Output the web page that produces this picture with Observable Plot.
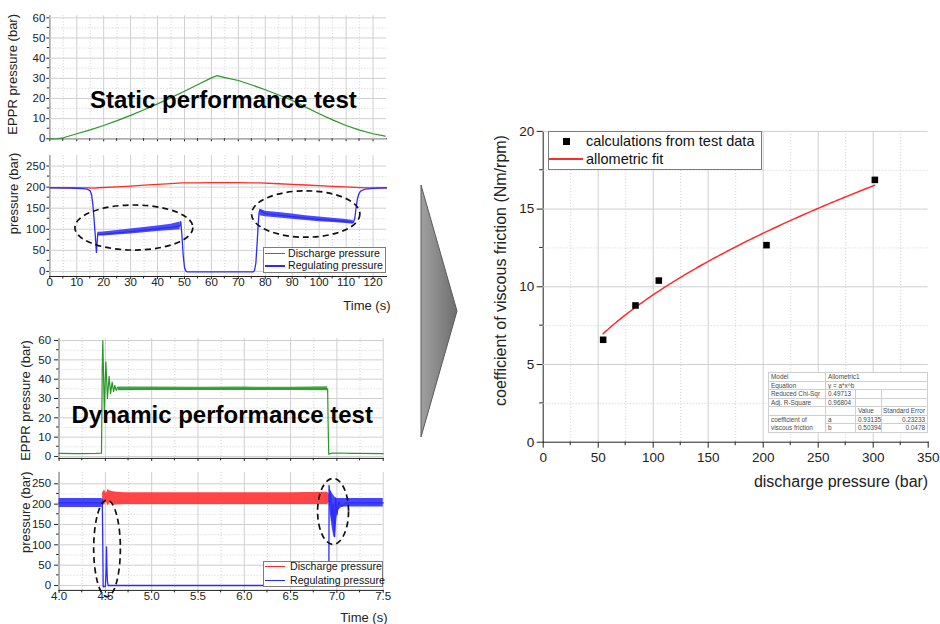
<!DOCTYPE html>
<html>
<head>
<meta charset="utf-8">
<script src="https://cdn.jsdelivr.net/npm/d3@7"></script>
<script src="https://cdn.jsdelivr.net/npm/@observablehq/plot@0.6"></script>
<style>
  html, body { margin: 0; padding: 0; background: #fff; }
  #page { position: relative; width: 940px; height: 624px; overflow: hidden;
          font-family: "Liberation Sans", Arial, sans-serif; color: #111; background: #fff; }
  .panel { position: absolute; }
  .banner { position: absolute; font-weight: bold; font-size: 24px; line-height: 24px;
            white-space: nowrap; color: #000; }
  .legend { position: absolute; background: #fff; border: 1px solid #7d7d7d; box-sizing: border-box; color: #111; }
  .stats { position: absolute; left: 768px; top: 372px; width: 159px; border-collapse: collapse;
           table-layout: fixed; font-size: 6.4px; color: #4a4a4a; background: #fff;
           border: 1px solid #8a8a8a; }
  .stats td { border: 1px solid #cfcfcf; height: 7.5px; line-height: 7.5px; padding: 0 0 0 2px;
              white-space: nowrap; overflow: hidden; }
  .stats td.r { text-align: right; padding: 0 2px 0 0; }
  .stats td.two { line-height: 8px; vertical-align: middle; }
</style>
</head>
<body>
<div id="page"></div>
<script>
// ---------------- data ----------------
// Static performance test: EPPR command pressure (bar) vs time (s)
const staticT    = [0, 3, 5, 10, 15, 20, 25, 30, 35, 40, 45, 50, 55, 60, 62, 65, 70, 75, 80, 85, 90, 95, 100, 105, 110, 115, 120, 124.5];
const staticEppr = [0, 0.05, 0.5, 2.5, 4.4, 6.6, 9.0, 11.6, 14.4, 17.3, 20.4, 23.6, 26.9, 30.2, 31.3, 30.3, 28.9, 26.7, 24.3, 21.7, 19.0, 15.7, 12.4, 9.4, 6.6, 4.3, 2.5, 1.3];

// Static test: discharge pressure (bar)
const dischargeT = [0, 8, 14, 16.5, 18, 25, 30, 35, 40, 45, 49, 55, 60, 65, 70, 75, 78, 85, 90, 95, 100, 105, 110, 115, 118, 121, 125];
const discharge  = [199, 198.5, 198, 197.5, 198.5, 200.5, 202.5, 204.5, 206.5, 208.5, 210, 210.3, 210.5, 210.5, 210.5, 210.3, 210, 208, 206.5, 205, 203.5, 202, 200.5, 199, 198, 198, 198.5];

// Static test: regulating pressure (bar), mean trace
const regT = [0, 8, 12, 14, 15, 15.5, 16, 16.5, 17, 17.3, 17.8, 20, 25, 30, 35, 40, 45, 48.3, 48.6, 49, 49.5, 50, 50.5, 51, 60, 70, 75.5, 76, 76.5, 77, 77.4, 77.7, 78, 80, 85, 90, 95, 100, 105, 110, 112.7, 113.2, 113.7, 114.2, 114.8, 115.5, 117, 120, 125];
const reg  = [198, 197.5, 196.5, 195, 191, 182, 158, 118, 75, 45, 88, 88.5, 91.5, 94.5, 98, 101.5, 104.5, 108, 118, 90, 40, 10, 1, -1, -1, -1, -1, 2, 20, 70, 115, 140, 146, 137, 133.5, 130, 126.5, 123.5, 121, 118.5, 116.5, 125, 150, 172, 185, 191, 195, 197, 198];
// Static test: regulating pressure fluctuation envelope (null splits the two bands)
const regBandT  = [17.8, 20, 25, 30, 35, 40, 45, 48.4, null, 78, 80, 85, 90, 95, 100, 105, 110, 112.7];
const regBandLo = [84, 84, 86.5, 89, 92, 95, 97, 99, null, 132, 130, 127, 124, 121, 118, 116, 114, 112];
const regBandHi = [93, 93.5, 97, 100.5, 104, 108, 112, 117, null, 148, 143, 140, 136, 132, 129, 126, 123, 121];

// Dynamic performance test: EPPR step (bar) vs time (s)
const dynT    = [4.0, 4.2, 4.4, 4.458, 4.466, 4.472, 4.488, 4.505, 4.522, 4.54, 4.556, 4.573, 4.588, 4.602, 4.616, 4.632, 4.65, 5.0, 5.5, 6.0, 6.5, 6.9, 6.906, 6.912, 6.95, 7.2, 7.5];
const dynEppr = [1.6, 1.5, 1.6, 1.7, 45, 60, 24, 49, 30, 41.5, 32.5, 38.5, 33.5, 36.8, 34.2, 35.8, 34.8, 35, 35, 35, 35, 35, 15, 1.2, 1.8, 1.6, 1.5];
const dynBandT  = [4.64, 5.0, 5.5, 6.0, 6.5, 6.9];
const dynBandLo = [34.0, 34.1, 34.2, 34.1, 34.2, 34.0];
const dynBandHi = [36.0, 35.9, 35.8, 35.9, 35.8, 36.1];

// Dynamic test: discharge pressure ripple envelope (bar)
const dynDisT  = [4.47, 4.49, 4.51, 4.53, 4.55, 4.6, 4.7, 5.0, 5.5, 6.0, 6.5, 6.9, 6.925];
const dynDisLo = [200, 197, 205, 196, 203, 198, 199, 199, 199, 199, 199, 199, 205];
const dynDisHi = [228, 235, 226, 236, 232, 230, 228, 228, 228, 228, 228, 229, 222];

// Dynamic test: regulating pressure trace and ripple envelope (bar)
const dynRegT = [4.0, 4.46, 4.466, 4.471, 4.476, 4.5, 4.508, 4.512, 4.516, 4.522, 4.53, 4.6, 5.0, 6.0, 6.9, 6.913, 6.916, 6.92, 6.93, 6.945, 6.96, 6.975, 6.985, 7.0, 7.02, 7.05, 7.1, 7.5];
const dynReg  = [203, 203, 212, 120, -3, -2, 40, 95, 45, 10, 0, 0, 0, 0, 0, 0, 246, 205, 230, 160, 200, 120, 215, 175, 205, 195, 203, 203];
const dynRegBandT  = [4.0, 4.465, null, 6.918, 6.93, 6.95, 6.97, 6.985, 7.0, 7.02, 7.05, 7.08, 7.5];
const dynRegBandLo = [192, 192, null, 200, 175, 140, 118, 125, 165, 185, 192, 193, 193];
const dynRegBandHi = [214, 214, null, 246, 236, 226, 220, 216, 214, 214, 214, 214, 214];

// Viscous friction coefficient from test data
const pressure = [54.5, 83.9, 105.1, 203, 301.5];
const coef     = [6.59, 8.8, 10.4, 12.68, 16.88];

// Allometric fit y = a*x^b
const fitModel = "Allometric1";
const fitEquation = "y = a*x^b";
const fitChiSqr = 0.49713;
const fitAdjR2 = 0.96804;
const fitA = 0.93135, fitAErr = 0.23233;
const fitB = 0.50394, fitBErr = 0.0478;

// ticks and labels
const staticTimeTicks = [0, 10, 20, 30, 40, 50, 60, 70, 80, 90, 100, 110, 120];
const staticTimeMinor = [5, 15, 25, 35, 45, 55, 65, 75, 85, 95, 105, 115];
const dynTimeTicks = [4.0, 4.5, 5.0, 5.5, 6.0, 6.5, 7.0, 7.5];
const dynTimeMinor = [4.25, 4.75, 5.25, 5.75, 6.25, 6.75, 7.25];
const epprTicks = [0, 10, 20, 30, 40, 50, 60];
const epprMinor = [5, 15, 25, 35, 45, 55];
const pressTicks = [0, 50, 100, 150, 200, 250];
const pressMinor = [25, 75, 125, 175, 225];
const dischargeAxisTicks = [0, 50, 100, 150, 200, 250, 300, 350];
const dischargeAxisMinor = [25, 75, 125, 175, 225, 275, 325];
const coefTicks = [0, 5, 10, 15, 20];
const coefMinor = [2.5, 7.5, 12.5, 17.5];

const seriesNames = ["Discharge pressure", "Regulating pressure"];
const fitLegend = ["calculations from test data", "allometric fit"];

// annotation ellipses in data units: centre (t, p), half-axes (dt, dp)
const staticHighlights = [{t: 31.4, p: 103, dt: 21.9, dp: 53.4}, {t: 95.2, p: 135, dt: 20.1, dp: 55}];
const dynamicHighlights = [{t: 4.523, p: 90, dt: 0.144, dp: 119}, {t: 6.964, p: 181, dt: 0.167, dp: 81}];

// ---------------- drawing ----------------
const GREEN = "#2a962a", RED = "#ff2b2b", BLUE = "#2b2bff";
const GRID = "#cfcfcf", FONT = "Liberation Sans, Arial, sans-serif";
const page = document.getElementById("page");

function place(el, left, top) {
  el.classList.add("panel");
  el.style.left = left + "px";
  el.style.top = top + "px";
  page.append(el);
  return el;
}

function scaleFn(svg, name) {
  const s = svg.scale(name);
  return s.apply ? (v) => s.apply(v) : d3.scaleLinear(s.domain, s.range);
}
function frameOf(svg) {
  const xs = svg.scale("x"), ys = svg.scale("y");
  return {x: scaleFn(svg, "x"), y: scaleFn(svg, "y"),
          left: Math.min(...xs.range), right: Math.max(...xs.range),
          top: Math.min(...ys.range), bottom: Math.max(...ys.range)};
}
function addMinorTicks(svg, xMinor, yMinor, len) {
  const f = frameOf(svg);
  const g = d3.select(svg).append("g").attr("stroke", "#222").attr("stroke-width", 1);
  for (const v of xMinor) {
    const px = f.x(v);
    g.append("line").attr("x1", px).attr("x2", px).attr("y1", f.bottom).attr("y2", f.bottom + len);
  }
  for (const v of yMinor) {
    const py = f.y(v);
    g.append("line").attr("x1", f.left).attr("x2", f.left - len).attr("y1", py).attr("y2", py);
  }
}
function addEllipses(svg, list) {
  const f = frameOf(svg);
  const g = d3.select(svg).append("g").attr("fill", "none").attr("stroke", "#111")
    .attr("stroke-width", 1.7).attr("stroke-dasharray", "6,4");
  for (const e of list) {
    const cx = f.x(e.t), cy = f.y(e.p);
    g.append("ellipse").attr("cx", cx).attr("cy", cy)
      .attr("rx", Math.abs(f.x(e.t + e.dt) - cx)).attr("ry", Math.abs(f.y(e.p + e.dp) - cy));
  }
}

// rotated axis title centred on the left edge of the frame
const yTitle = (text, dx, dy, size) =>
  Plot.text([text], {text: (d) => d, frameAnchor: "left", textAnchor: "middle", lineAnchor: "middle",
                     rotate: -90, dx, dy, fontSize: size, fill: "#222"});
const xTitle = (text, dx, dy, size) =>
  Plot.text([text], {text: (d) => d, frameAnchor: "bottom-right", textAnchor: "end", lineAnchor: "middle",
                     dx, dy, fontSize: size, fill: "#222"});

function timePanel({width, height, margin, xDomain, yDomain, xTicks, xMinor, yTicks, yMinor,
                    showX, xFormat, yTickSize, yTickPadding, marks}) {
  const svg = Plot.plot({
    width, height,
    marginLeft: margin[3], marginRight: margin[1], marginTop: margin[0], marginBottom: margin[2],
    style: {fontFamily: FONT, fontSize: "11.5px", background: "transparent", overflow: "visible", color: "#222"},
    x: {domain: xDomain, ticks: xTicks, tickSize: 3, tickPadding: -1.5, line: true, label: null,
        tickFormat: showX ? xFormat : () => ""},
    y: {domain: yDomain, ticks: yTicks, tickSize: yTickSize, tickPadding: yTickPadding, line: true, label: null},
    marks: [
      Plot.ruleY(yMinor, {stroke: GRID, strokeDasharray: "1,2"}),
      Plot.ruleX(xMinor, {stroke: GRID, strokeDasharray: "1,2"}),
      Plot.ruleY(yTicks, {stroke: GRID}),
      Plot.ruleX(xTicks, {stroke: GRID}),
      ...marks
    ]
  });
  addMinorTicks(svg, xMinor, yMinor, 2.5);
  return svg;
}

// Panel 1: static test EPPR pressure
place(timePanel({
  width: 400, height: 150, margin: [15.3, 14, 11.7, 49.3],
  xDomain: [0, 125], yDomain: [0, 61], xTicks: staticTimeTicks, xMinor: staticTimeMinor,
  yTicks: epprTicks, yMinor: epprMinor, showX: false, yTickSize: 3, yTickPadding: 1.5,
  marks: [
    Plot.line(staticT, {x: staticT, y: staticEppr, stroke: GREEN, strokeWidth: 1.2}),
    yTitle("EPPR pressure (bar)", -36.8, -3, 13)
  ]
}), 0, 0);

// Panel 2: static test discharge and regulating pressure
const p2 = place(timePanel({
  width: 400, height: 170, margin: [5, 14, 44, 49.3],
  xDomain: [0, 125], yDomain: [-12, 275], xTicks: staticTimeTicks, xMinor: staticTimeMinor,
  yTicks: pressTicks, yMinor: pressMinor, showX: true, xFormat: (d) => String(d), yTickSize: 3, yTickPadding: 1.5,
  marks: [
    Plot.line(dischargeT, {x: dischargeT, y: discharge, stroke: RED, strokeWidth: 1.3}),
    Plot.area(regBandT, {x1: regBandT, y1: regBandLo, y2: regBandHi, fill: BLUE, fillOpacity: 0.85}),
    Plot.line(regT, {x: regT, y: reg, stroke: BLUE, strokeWidth: 1.3}),
    yTitle("pressure (bar)", -36, -22.5, 13),
    xTitle("Time (s)", 4, 29, 13)
  ]
}), 0, 150);
addEllipses(p2, staticHighlights);

// Panel 3: dynamic test EPPR pressure
place(timePanel({
  width: 400, height: 145, margin: [18.1, 17.3, 7.1, 58.6],
  xDomain: [4, 7.5], yDomain: [-1, 61], xTicks: dynTimeTicks, xMinor: dynTimeMinor,
  yTicks: epprTicks, yMinor: epprMinor, showX: false, yTickSize: 4.5, yTickPadding: 3.5,
  marks: [
    Plot.area(dynBandT, {x1: dynBandT, y1: dynBandLo, y2: dynBandHi, fill: GREEN, fillOpacity: 0.85}),
    Plot.line(dynT, {x: dynT, y: dynEppr, stroke: GREEN, strokeWidth: 1.2}),
    yTitle("EPPR pressure (bar)", -33.6, 2, 13)
  ]
}), 0, 320);

// Panel 4: dynamic test discharge and regulating pressure
const p4 = place(timePanel({
  width: 400, height: 159, margin: [6.9, 17.3, 34.1, 58.6],
  xDomain: [4, 7.5], yDomain: [-12, 278], xTicks: dynTimeTicks, xMinor: dynTimeMinor,
  yTicks: pressTicks, yMinor: pressMinor, showX: true, xFormat: d3.format(".1f"), yTickSize: 4.5, yTickPadding: 3.5,
  marks: [
    Plot.area(dynDisT, {x1: dynDisT, y1: dynDisLo, y2: dynDisHi, fill: RED, fillOpacity: 0.88}),
    Plot.area(dynRegBandT, {x1: dynRegBandT, y1: dynRegBandLo, y2: dynRegBandHi, fill: BLUE, fillOpacity: 0.88}),
    Plot.line(dynRegT, {x: dynRegT, y: dynReg, stroke: BLUE, strokeWidth: 1.3}),
    yTitle("pressure (bar)", -33.6, -19.2, 13),
    xTitle("Time (s)", 4.3, 27.8, 13)
  ]
}), 0, 465);
addEllipses(p4, dynamicHighlights);

// Right: viscous friction coefficient vs discharge pressure with allometric fit
const fitX = d3.range(d3.min(pressure), d3.max(pressure), 2).concat([d3.max(pressure)]);
const fitY = fitX.map((x) => fitA * Math.pow(x, fitB));
const right = Plot.plot({
  width: 470, height: 400, marginLeft: 72.7, marginRight: 12.3, marginTop: 30.9, marginBottom: 58.3,
  style: {fontFamily: FONT, fontSize: "13.5px", background: "transparent", overflow: "visible", color: "#222"},
  x: {domain: [0, 350], ticks: dischargeAxisTicks, tickSize: 6, tickPadding: 4, line: true, label: null},
  y: {domain: [0, 20], ticks: coefTicks, tickSize: 6, tickPadding: 3, line: true, label: null},
  marks: [
    Plot.ruleX(dischargeAxisMinor, {stroke: GRID, strokeDasharray: "1,2"}),
    Plot.ruleY(coefMinor, {stroke: GRID, strokeDasharray: "1,2"}),
    Plot.ruleX(dischargeAxisTicks.filter((v) => v > 0 && v < 350), {stroke: GRID}),
    Plot.ruleY(coefTicks.filter((v) => v > 0), {stroke: GRID}),
    Plot.line(fitX, {x: fitX, y: fitY, stroke: RED, strokeWidth: 1.5}),
    Plot.dot(pressure, {x: pressure, y: coef, symbol: "square", r: 3.7, fill: "#000"}),
    yTitle("coefficient of viscous friction (Nm/rpm)", -42.7, -16.3, 16),
    xTitle("discharge pressure (bar)", 0, 40, 16)
  ]
});
addMinorTicks(right, dischargeAxisMinor, coefMinor, 3.5);
place(right, 470, 100);

// Legends
function htmlLegend({left, top, width, height, fontSize, textLeft, rows}) {
  const box = document.createElement("div");
  box.className = "legend";
  Object.assign(box.style, {left: left + "px", top: top + "px", width: width + "px", height: height + "px", fontSize: fontSize + "px"});
  for (const r of rows) {
    const sw = document.createElement("div");
    if (r.kind === "line") {
      Object.assign(sw.style, {position: "absolute", left: r.x0 + "px", width: (r.x1 - r.x0) + "px",
        top: (r.y - 0.75) + "px", height: "1.5px", background: r.color});
    } else {
      Object.assign(sw.style, {position: "absolute", left: (r.cx - r.size / 2) + "px", top: (r.y - r.size / 2) + "px",
        width: r.size + "px", height: r.size + "px", background: r.color});
    }
    const tx = document.createElement("div");
    tx.textContent = r.label;
    Object.assign(tx.style, {position: "absolute", left: textLeft + "px", top: (r.y - fontSize) + "px",
      lineHeight: (2 * fontSize) + "px", whiteSpace: "nowrap"});
    box.append(sw, tx);
  }
  page.append(box);
}
htmlLegend({left: 263, top: 247, width: 123, height: 26, fontSize: 10.6, textLeft: 24,
  rows: [{kind: "line", x0: 1, x1: 21, y: 5.5, color: RED, label: seriesNames[0]},
         {kind: "line", x0: 1, x1: 21, y: 18, color: BLUE, label: seriesNames[1]}]});
htmlLegend({left: 263, top: 561, width: 120, height: 25.5, fontSize: 10.6, textLeft: 26,
  rows: [{kind: "line", x0: 1, x1: 21, y: 4.5, color: RED, label: seriesNames[0]},
         {kind: "line", x0: 1, x1: 21, y: 18.5, color: BLUE, label: seriesNames[1]}]});
htmlLegend({left: 548, top: 131, width: 214, height: 38.5, fontSize: 14.5, textLeft: 37,
  rows: [{kind: "square", cx: 17.5, size: 6.5, y: 9.5, color: "#000", label: fitLegend[0]},
         {kind: "line", x0: 0, x1: 34, y: 27, color: RED, label: fitLegend[1]}]});

// Fit statistics table
const table = document.createElement("table");
table.className = "stats";
table.innerHTML = `
  <colgroup><col style="width:57px"><col style="width:30px"><col style="width:26px"><col style="width:46px"></colgroup>
  <tr><td>Model</td><td colspan="3">${fitModel}</td></tr>
  <tr><td>Equation</td><td colspan="3">${fitEquation}</td></tr>
  <tr><td>Reduced Chi-Sqr</td><td>${fitChiSqr}</td><td></td><td></td></tr>
  <tr><td>Adj. R-Square</td><td>${fitAdjR2}</td><td></td><td></td></tr>
  <tr><td></td><td></td><td>Value</td><td class="r">Standard Error</td></tr>
  <tr><td class="two" rowspan="2">coefficient of<br>viscous friction</td><td>a</td><td>${fitA}</td><td class="r">${fitAErr}</td></tr>
  <tr><td>b</td><td>${fitB}</td><td class="r">${fitBErr}</td></tr>`;
page.append(table);

// Bold test titles over the left panels
const b1 = document.createElement("div");
b1.className = "banner"; b1.textContent = "Static performance test";
b1.style.left = "90px"; b1.style.top = "88px";
const b2 = document.createElement("div");
b2.className = "banner"; b2.textContent = "Dynamic performance test";
b2.style.left = "71.5px"; b2.style.top = "402.5px";
page.append(b1, b2);

// Grey arrow leading from the tests to the result
const arrow = d3.select(page).append("svg")
  .attr("width", 940).attr("height", 624)
  .style("position", "absolute").style("left", "0px").style("top", "0px").style("pointer-events", "none");
const grad = arrow.append("defs").append("linearGradient").attr("id", "arrowFill")
  .attr("x1", "0%").attr("x2", "100%").attr("y1", "0%").attr("y2", "0%");
grad.append("stop").attr("offset", "0%").attr("stop-color", "#a0a0a0");
grad.append("stop").attr("offset", "100%").attr("stop-color", "#6e6e6e");
arrow.append("polygon").attr("points", "421,185 421,437 457,311")
  .attr("fill", "url(#arrowFill)").attr("stroke", "#5a5a5a").attr("stroke-width", 1);
</script>
</body>
</html>
